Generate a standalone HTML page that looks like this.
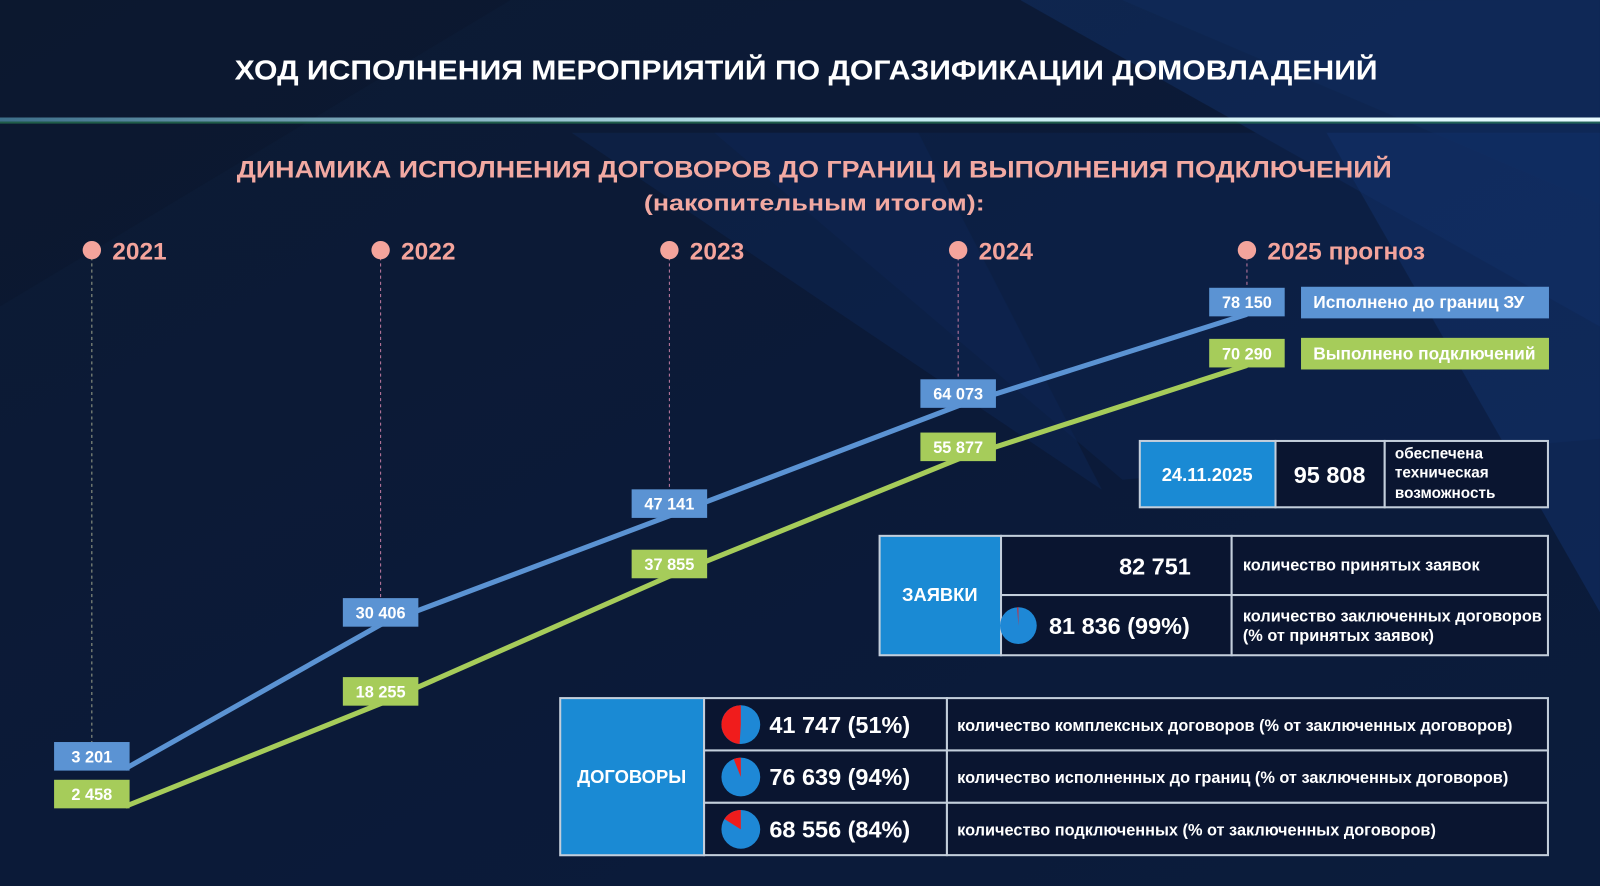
<!DOCTYPE html>
<html><head><meta charset="utf-8">
<style>
html,body{margin:0;padding:0;background:#0c1a33;}
svg{display:block;}
text{font-family:"Liberation Sans",sans-serif;}
</style></head>
<body>
<svg id="s" width="1600" height="886" viewBox="0 0 1568 868" xmlns="http://www.w3.org/2000/svg">
<defs>
<linearGradient id="bg" x1="0" y1="0" x2="1" y2="1">
<stop offset="0" stop-color="#0d1b33"/><stop offset="0.5" stop-color="#0b1a38"/><stop offset="1" stop-color="#0b1c3c"/>
</linearGradient>
<linearGradient id="glow" x1="0" x2="1">
<stop offset="0" stop-color="#3e6f8a"/><stop offset="0.5" stop-color="#bfe8f0"/><stop offset="1" stop-color="#e8fbff"/>
</linearGradient>
</defs>
<rect width="1568" height="868" fill="url(#bg)"/>
<g opacity="0.5">
<polygon points="600,0 1568,0 1568,200 1100,0" fill="#143a7a" opacity="0.4"/>
<polygon points="1000,0 1568,0 1568,320" fill="#1a4a9a" opacity="0.5"/>
<polygon points="560,130 900,130 1080,480" fill="#153677" opacity="0.45"/>
<polygon points="700,130 1568,130 1568,430 1100,470" fill="#123270" opacity="0.45"/>
<polygon points="1300,130 1568,130 1568,600" fill="#1a4aa0" opacity="0.5"/>
<polygon points="0,0 500,0 0,300" fill="#0a1528" opacity="0.6"/>
</g>
<rect x="0" y="115" width="1568" height="4" fill="url(#glow)"/>
<rect x="0" y="119" width="1568" height="2" fill="#2f8a5a" opacity="0.6"/>
<text x="790" y="78" text-anchor="middle" fill="#ffffff" font-size="27" font-weight="bold" textLength="1120" lengthAdjust="spacingAndGlyphs">ХОД ИСПОЛНЕНИЯ МЕРОПРИЯТИЙ ПО ДОГАЗИФИКАЦИИ ДОМОВЛАДЕНИЙ</text>
<text x="798" y="174" text-anchor="middle" fill="#f2a9a2" font-size="24" font-weight="bold" textLength="1132" lengthAdjust="spacingAndGlyphs">ДИНАМИКА ИСПОЛНЕНИЯ ДОГОВОРОВ ДО ГРАНИЦ И ВЫПОЛНЕНИЯ ПОДКЛЮЧЕНИЙ</text>
<text x="798" y="206" text-anchor="middle" fill="#f2a9a2" font-size="22" font-weight="bold" textLength="334" lengthAdjust="spacingAndGlyphs">(накопительным итогом):</text>
<g id="chart"></g>
<g id="tables"></g>
</svg>
<script>
const years = ['2021','2022','2023','2024','2025 прогноз'];
const blueValues = [3201, 30406, 47141, 64073, 78150];
const greenValues = [2458, 18255, 37855, 55877, 70290];
const blueLabels = ['3 201','30 406','47 141','64 073','78 150'];
const greenLabels = ['2 458','18 255','37 855','55 877','70 290'];
const seriesNames = ['Исполнено до границ ЗУ','Выполнено подключений'];
const NS='http://www.w3.org/2000/svg';
function mk(tag,attrs,parent,txt){const e=document.createElementNS(NS,tag);for(const k in attrs)e.setAttribute(k,attrs[k]);if(txt!==undefined)e.textContent=txt;parent.appendChild(e);return e;}
const xScale=i=>90+i*283;
const yScale=v=>793.7-v*0.00637;
const chart=document.getElementById('chart');
const BLUE='#5b93d3', GREEN='#a6cc5a';
const gY=greenValues.map(yScale);
const bY=blueValues.map((v,i)=>Math.min(yScale(v),gY[i]-37));
years.forEach((y,i)=>{
  const x=xScale(i);
  const l=mk('line',{x1:x,y1:252,x2:x,y2:bY[i]-14,stroke:i===0?'#9aa08a':'#c07aa0','stroke-width':1,'stroke-dasharray':'3,3'},chart);
  
  
  const c=mk('circle',{cx:x,cy:245,r:9,fill:'#f4a49c'},chart);
  
  
  const t=mk('text',{x:x+20,y:254,fill:'#f4a49c','font-size':24,'font-weight':'bold'},chart,y);
  
  
});
function series(vals,ys,labels,color,name,dy){
  const pts=vals.map((v,i)=>{const x=i===0?xScale(i)+33:xScale(i);return x+','+(ys[i]+dy);}).join(' ');
  const pl=mk('polyline',{points:pts,fill:'none',stroke:color,'stroke-width':5,'stroke-linejoin':'round'},chart);
  
  
  vals.forEach((v,i)=>{
    const x=xScale(i),y=ys[i];
    const r=mk('rect',{x:x-37,y:y-14,width:74,height:28,fill:color},chart);
    
    
    const t=mk('text',{x:x,y:y+6,fill:'#ffffff','font-size':16,'font-weight':'bold','text-anchor':'middle'},chart,labels[i]);
    
    
  });
}
series(greenValues,gY,greenLabels,GREEN,'connections',12);
series(blueValues,bY,blueLabels,BLUE,'executed',12);
[[BLUE,bY[4]],[GREEN,gY[4]]].forEach((d,i)=>{
  const r=mk('rect',{x:1275,y:d[1]-15,width:243,height:31,fill:d[0]},chart);
  
  
  const t=mk('text',{x:1287,y:d[1]+6,fill:'#ffffff','font-size':17,'font-weight':'bold'},chart,seriesNames[i]);
  
  
});
const T=document.getElementById('tables');
const BORDER='#c3cedb', CELL='#0a1530', BB='#1a8ad4';
function cell(x,y,w,h,fill,name){const r=mk('rect',{x:x,y:y,width:w,height:h,fill:fill,stroke:BORDER,'stroke-width':2},T);return r;}
function txt(x,y,s,size,anchor,name){const t=mk('text',{x:x,y:y,fill:'#ffffff','font-size':size,'font-weight':'bold','text-anchor':anchor||'start'},T,s);return t;}
function pie(cx,cy,r,pct,name){
  const g=mk('g',{},T);
  mk('circle',{cx:cx,cy:cy,r:r,fill:'#1e88d6'},g);
  const f=(100-pct)/100, a=f*2*Math.PI;
  const x2=cx-r*Math.sin(a), y2=cy-r*Math.cos(a);
  mk('path',{d:`M${cx},${cy} L${cx},${cy-r} A${r},${r} 0 ${f>0.5?1:0} 0 ${x2},${y2} Z`,fill:'#f01c1c'},g);
}
cell(1117,432,133,65,BB,'date-cell');
cell(1250,432,107,65,CELL,'capability-value-cell');
cell(1357,432,160,65,CELL,'capability-label-cell');
txt(1183,471,'24.11.2025',18,'middle','report-date');
txt(1303,473,'95 808',23,'middle','capability-value');
txt(1367,449,'обеспечена',15,'start','capability-text-1');
txt(1367,468,'техническая',15,'start','capability-text-2');
txt(1367,488,'возможность',15,'start','capability-text-3');
cell(862,525,119,117,BB,'applications-header-cell');
cell(981,525,226,58,CELL,'applications-received-value-cell');
cell(981,583,226,59,CELL,'applications-contracts-value-cell');
cell(1207,525,310,58,CELL,'applications-received-label-cell');
cell(1207,583,310,59,CELL,'applications-contracts-label-cell');
txt(921,589,'ЗАЯВКИ',18,'middle','applications-header');
txt(1167,563,'82 751',23,'end','applications-received-value');
pie(998,613,18,99,'contracts-pie');
txt(1028,621,'81 836 (99%)',23,'start','contracts-value');
txt(1218,559,'количество принятых заявок',16,'start','applications-received-label');
txt(1218,609,'количество заключенных договоров',16,'start','contracts-label-1');
txt(1218,628,'(% от принятых заявок)',16,'start','contracts-label-2');
cell(549,684,141,154,BB,'contracts-header-cell');
const rows=[[41747,'41 747 (51%)',51,'количество комплексных договоров (% от заключенных договоров)','complex'],
[76639,'76 639 (94%)',94,'количество исполненных до границ (% от заключенных договоров)','executed'],
[68556,'68 556 (84%)',84,'количество подключенных (% от заключенных договоров)','connected']];
rows.forEach((r,i)=>{
  const y=684+i*51.3;
  cell(690,y,238,51.3,CELL,r[4]+'-value-cell');
  cell(928,y,589,51.3,CELL,r[4]+'-label-cell');
  pie(726,y+26,19,r[2],r[4]+'-pie');
  txt(754,y+34,r[1],23,'start',r[4]+'-value');
  txt(938,y+32,r[3],16,'start',r[4]+'-label');
});
txt(619,767,'ДОГОВОРЫ',18,'middle','contracts-header');
</script>
</body></html>
